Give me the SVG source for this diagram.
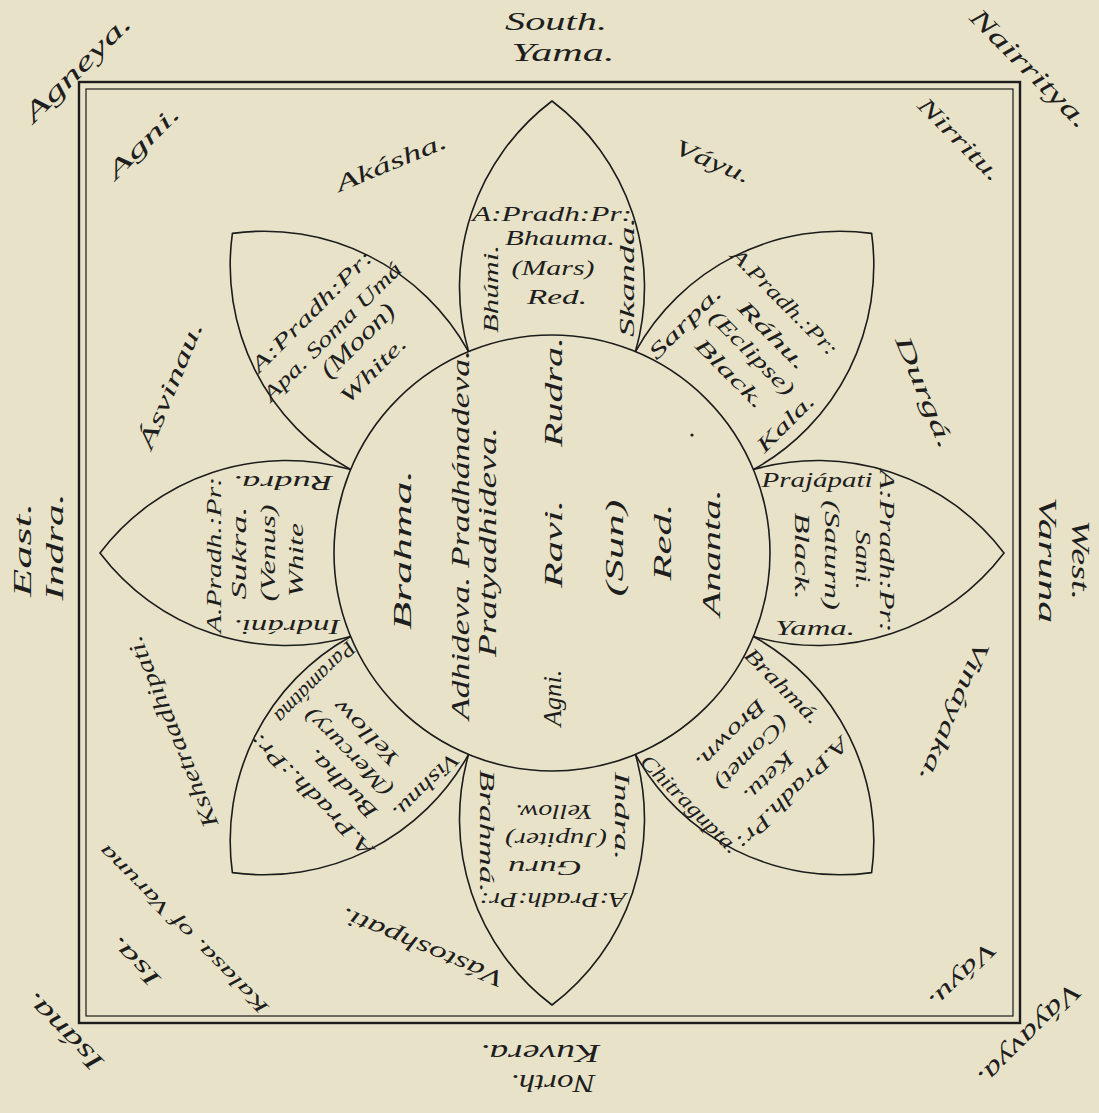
<svg xmlns="http://www.w3.org/2000/svg" width="1099" height="1113" viewBox="0 0 1099 1113">
<style>
.ln{fill:none;stroke:#1c1c1c;stroke-width:1.6}
text{font-family:"Liberation Serif","DejaVu Serif",serif;font-style:italic;fill:#1e1e1e;text-anchor:middle}
.o{font-size:26px}
.m{font-size:23px}
.s{font-size:19px}
.p{font-size:21px}
.c{font-size:25px}
</style>
<defs>
<path id="petal" d="M468.6,351.6 A233.4,233.4 0 0 1 552,101 A233.4,233.4 0 0 1 635.4,351.6"/>
</defs>
<rect width="1099" height="1113" fill="#e8e3c8"/>
<g id="frame">
<rect x="79" y="82" width="941" height="941" fill="none" stroke="#1c1c1c" stroke-width="2.4"/>
<rect x="86" y="89" width="927" height="927" fill="none" stroke="#1c1c1c" stroke-width="1.2"/>
</g>
<g id="outer-labels">
<text class="o" transform="translate(556 21)" y="9" textLength="102" lengthAdjust="spacingAndGlyphs">South.</text>
<text class="o" transform="translate(563 52)" y="9" textLength="103" lengthAdjust="spacingAndGlyphs">Yama.</text>
<text class="o" transform="translate(77 68) rotate(-45)" y="9" textLength="140" lengthAdjust="spacingAndGlyphs">Agneya.</text>
<text class="o" transform="translate(1030 68) rotate(45)" y="9" textLength="157" lengthAdjust="spacingAndGlyphs">Nairritya.</text>
<text class="o" transform="translate(22 550) rotate(-90)" y="9" textLength="94" lengthAdjust="spacingAndGlyphs">East.</text>
<text class="o" transform="translate(54 547) rotate(-90)" y="9" textLength="107" lengthAdjust="spacingAndGlyphs">Indra.</text>
<text class="o" transform="translate(1081 560) rotate(90)" y="9" textLength="80" lengthAdjust="spacingAndGlyphs">West.</text>
<text class="o" transform="translate(1048 560) rotate(90)" y="9" textLength="126" lengthAdjust="spacingAndGlyphs">Varuna</text>
<text class="o" transform="translate(553 1084) rotate(180)" y="9" textLength="85" lengthAdjust="spacingAndGlyphs">North.</text>
<text class="o" transform="translate(540 1054) rotate(180)" y="9" textLength="120" lengthAdjust="spacingAndGlyphs">Kuvera.</text>
<text class="o" transform="translate(63 1032) rotate(-135)" y="9" textLength="100" lengthAdjust="spacingAndGlyphs">Isána.</text>
<text class="o" transform="translate(1030 1035) rotate(135)" y="9" textLength="135" lengthAdjust="spacingAndGlyphs">Váyavya.</text>
</g>
<g id="inner-labels">
<text class="m" transform="translate(143 142) rotate(-45)" y="8" textLength="93" lengthAdjust="spacingAndGlyphs">Agni.</text>
<text class="m" transform="translate(960 139) rotate(45)" y="8" textLength="108" lengthAdjust="spacingAndGlyphs">Nirritu.</text>
<text class="m" transform="translate(391 162) rotate(-22.5)" y="8" textLength="118" lengthAdjust="spacingAndGlyphs">Akásha.</text>
<text class="m" transform="translate(713 161) rotate(22.5)" y="8" textLength="80" lengthAdjust="spacingAndGlyphs">Váyu.</text>
<text class="m" transform="translate(925 392) rotate(67.5)" y="8" textLength="120" lengthAdjust="spacingAndGlyphs">Durgá.</text>
<text class="m" transform="translate(955 712) rotate(112.5)" y="8" textLength="150" lengthAdjust="spacingAndGlyphs">Vináyaka.</text>
<text class="m" transform="translate(963 976) rotate(135)" y="8" textLength="85" lengthAdjust="spacingAndGlyphs">Váyu.</text>
<text class="m" transform="translate(422 948) rotate(-157.5)" y="8" textLength="175" lengthAdjust="spacingAndGlyphs">Vástoshpati.</text>
<text class="m" transform="translate(172 732) rotate(-112.5)" y="8" textLength="205" lengthAdjust="spacingAndGlyphs">Kshetraadhipati.</text>
<text class="m" transform="translate(170 385) rotate(-67.5)" y="8" textLength="135" lengthAdjust="spacingAndGlyphs">Ásvinau.</text>
<text class="m" transform="translate(134 962) rotate(-135)" y="8" textLength="62" lengthAdjust="spacingAndGlyphs">Isa.</text>
<text class="s" transform="translate(183 930) rotate(-135)" y="7" textLength="231" lengthAdjust="spacingAndGlyphs">Kalasa. of Varuna</text>
</g>
<g id="centre">
<circle class="ln" cx="552" cy="553" r="218"/>
<circle cx="692" cy="435" r="1.6" fill="#1e1e1e"/>
<text class="c" transform="translate(403 550) rotate(-90)" y="8" textLength="160" lengthAdjust="spacingAndGlyphs">Brahma.</text>
<text class="c" transform="translate(461 535) rotate(-90)" y="8" textLength="370" lengthAdjust="spacingAndGlyphs">Adhideva. Pradhánadeva.</text>
<text class="c" transform="translate(490 542) rotate(-90)" y="6" textLength="230" lengthAdjust="spacingAndGlyphs">Pratyadhideva.</text>
<text class="c" transform="translate(553 698) rotate(-90)" y="8" textLength="57" lengthAdjust="spacingAndGlyphs">Agni.</text>
<text class="c" transform="translate(554 544) rotate(-90)" y="8" textLength="88" lengthAdjust="spacingAndGlyphs">Ravi.</text>
<text class="c" transform="translate(554 392) rotate(-90)" y="8" textLength="110" lengthAdjust="spacingAndGlyphs">Rudra.</text>
<text class="c" transform="translate(615 548) rotate(-90)" y="8" textLength="97" lengthAdjust="spacingAndGlyphs">(Sun)</text>
<text class="c" transform="translate(663 542) rotate(-90)" y="8" textLength="77" lengthAdjust="spacingAndGlyphs">Red.</text>
<text class="c" transform="translate(712 553) rotate(-90)" y="8" textLength="127" lengthAdjust="spacingAndGlyphs">Ananta.</text>
</g>
<g id="petal-n">
<use href="#petal" class="ln"/>
<text class="p" transform="translate(552 214)" y="7" textLength="160" lengthAdjust="spacingAndGlyphs">A:Pradh:Pr:</text>
<text class="p" transform="translate(560 238)" y="7" textLength="110" lengthAdjust="spacingAndGlyphs">Bhauma.</text>
<text class="p" transform="translate(553 268)" y="7" textLength="83" lengthAdjust="spacingAndGlyphs">(Mars)</text>
<text class="p" transform="translate(557 297)" y="7" textLength="60" lengthAdjust="spacingAndGlyphs">Red.</text>
<text class="p" transform="translate(491 289) rotate(-90)" y="7" textLength="88" lengthAdjust="spacingAndGlyphs">Bhúmi.</text>
<text class="p" transform="translate(627 277) rotate(-90)" y="7" textLength="120" lengthAdjust="spacingAndGlyphs">Skanda.</text>
</g>
<g id="petal-ne" transform="rotate(45 552 553)">
<use href="#petal" class="ln"/>
<text class="p" transform="translate(539 211)" y="7" textLength="142" lengthAdjust="spacingAndGlyphs">A.Pradh.:Pr:</text>
<text class="p" transform="translate(554 243)" y="7" textLength="88" lengthAdjust="spacingAndGlyphs">Ráhu.</text>
<text class="p" transform="translate(552 270)" y="7" textLength="111" lengthAdjust="spacingAndGlyphs">(Eclipse)</text>
<text class="p" transform="translate(551 300)" y="7" textLength="90" lengthAdjust="spacingAndGlyphs">Black.</text>
<text class="p" transform="translate(483 296) rotate(-90)" y="7" textLength="94" lengthAdjust="spacingAndGlyphs">Sarpa.</text>
<text class="p" transform="translate(625 296) rotate(-90)" y="7" textLength="73" lengthAdjust="spacingAndGlyphs">Kala.</text>
</g>
<g id="petal-e" transform="rotate(90 552 553)">
<use href="#petal" class="ln"/>
<text class="p" transform="translate(550 218)" y="7" textLength="163" lengthAdjust="spacingAndGlyphs">A:Pradh:Pr:</text>
<text class="p" transform="translate(559 242)" y="7" textLength="60" lengthAdjust="spacingAndGlyphs">Sani.</text>
<text class="p" transform="translate(554 273)" y="7" textLength="110" lengthAdjust="spacingAndGlyphs">(Saturn)</text>
<text class="p" transform="translate(555 303)" y="7" textLength="87" lengthAdjust="spacingAndGlyphs">Black.</text>
<text class="p" transform="translate(479 288) rotate(-90)" y="7" textLength="111" lengthAdjust="spacingAndGlyphs">Prajápati</text>
<text class="p" transform="translate(627 290) rotate(-90)" y="7" textLength="80" lengthAdjust="spacingAndGlyphs">Yama.</text>
</g>
<g id="petal-se" transform="rotate(135 552 553)">
<use href="#petal" class="ln"/>
<text class="p" transform="translate(552 213)" y="7" textLength="150" lengthAdjust="spacingAndGlyphs">A.Pradh.Pr:</text>
<text class="p" transform="translate(557 241)" y="7" textLength="62" lengthAdjust="spacingAndGlyphs">Ketu.</text>
<text class="p" transform="translate(552 270)" y="7" textLength="95" lengthAdjust="spacingAndGlyphs">(Comet)</text>
<text class="p" transform="translate(554 298)" y="7" textLength="90" lengthAdjust="spacingAndGlyphs">Brown.</text>
<text class="p" transform="translate(483 296) rotate(-90)" y="7" textLength="98" lengthAdjust="spacingAndGlyphs">Brahmá.</text>
<text class="p" transform="translate(632 278) rotate(-90)" y="7" textLength="130" lengthAdjust="spacingAndGlyphs">Chitragupta.</text>
</g>
<g id="petal-s" transform="rotate(180 552 553)">
<use href="#petal" class="ln"/>
<text class="p" transform="translate(551 206)" y="7" textLength="147" lengthAdjust="spacingAndGlyphs">A:Pradh:Pr:</text>
<text class="p" transform="translate(559 238)" y="7" textLength="74" lengthAdjust="spacingAndGlyphs">Guru</text>
<text class="p" transform="translate(548 266)" y="7" textLength="102" lengthAdjust="spacingAndGlyphs">(Jupiter)</text>
<text class="p" transform="translate(550 294)" y="7" textLength="78" lengthAdjust="spacingAndGlyphs">Yellow.</text>
<text class="p" transform="translate(482 290) rotate(-90)" y="7" textLength="88" lengthAdjust="spacingAndGlyphs">Indra.</text>
<text class="p" transform="translate(617 275) rotate(-90)" y="7" textLength="123" lengthAdjust="spacingAndGlyphs">Brahmá.</text>
</g>
<g id="petal-sw" transform="rotate(225 552 553)">
<use href="#petal" class="ln"/>
<text class="p" transform="translate(551 212)" y="7" textLength="165" lengthAdjust="spacingAndGlyphs">A.Pradh.:Pr:</text>
<text class="p" transform="translate(537 241)" y="7" textLength="90" lengthAdjust="spacingAndGlyphs">Budha.</text>
<text class="p" transform="translate(555 267)" y="7" textLength="115" lengthAdjust="spacingAndGlyphs">(Mercury)</text>
<text class="p" transform="translate(556 294)" y="7" textLength="85" lengthAdjust="spacingAndGlyphs">Yellow</text>
<text class="p" transform="translate(476 299) rotate(-90)" y="7" textLength="85" lengthAdjust="spacingAndGlyphs">Vishnu.</text>
<text class="p" transform="translate(628 294) rotate(-90)" y="7" textLength="106" lengthAdjust="spacingAndGlyphs">Paramátma</text>
</g>
<g id="petal-w" transform="rotate(270 552 553)">
<use href="#petal" class="ln"/>
<text class="p" transform="translate(550 215)" y="7" textLength="156" lengthAdjust="spacingAndGlyphs">A.Pradh.:Pr:</text>
<text class="p" transform="translate(552 240)" y="7" textLength="93" lengthAdjust="spacingAndGlyphs">Sukra.</text>
<text class="p" transform="translate(552 269)" y="7" textLength="97" lengthAdjust="spacingAndGlyphs">(Venus)</text>
<text class="p" transform="translate(545 297)" y="7" textLength="74" lengthAdjust="spacingAndGlyphs">White</text>
<text class="p" transform="translate(478 288) rotate(-90)" y="7" textLength="107" lengthAdjust="spacingAndGlyphs">Indráni.</text>
<text class="p" transform="translate(622 284) rotate(-90)" y="7" textLength="100" lengthAdjust="spacingAndGlyphs">Rudra.</text>
</g>
<g id="petal-nw" transform="rotate(315 552 553)">
<use href="#petal" class="ln"/>
<text class="p" transform="translate(553 212)" y="7" textLength="163" lengthAdjust="spacingAndGlyphs">A:Pradh:Pr:</text>
<text class="p" transform="translate(553 241)" y="7" textLength="187" lengthAdjust="spacingAndGlyphs">Apa. Soma Umá</text>
<text class="p" transform="translate(565 265)" y="8" textLength="95" lengthAdjust="spacingAndGlyphs" style="font-size:24px">(Moon)</text>
<text class="p" transform="translate(555 297)" y="7" textLength="85" lengthAdjust="spacingAndGlyphs">White.</text>
</g>
</svg>
